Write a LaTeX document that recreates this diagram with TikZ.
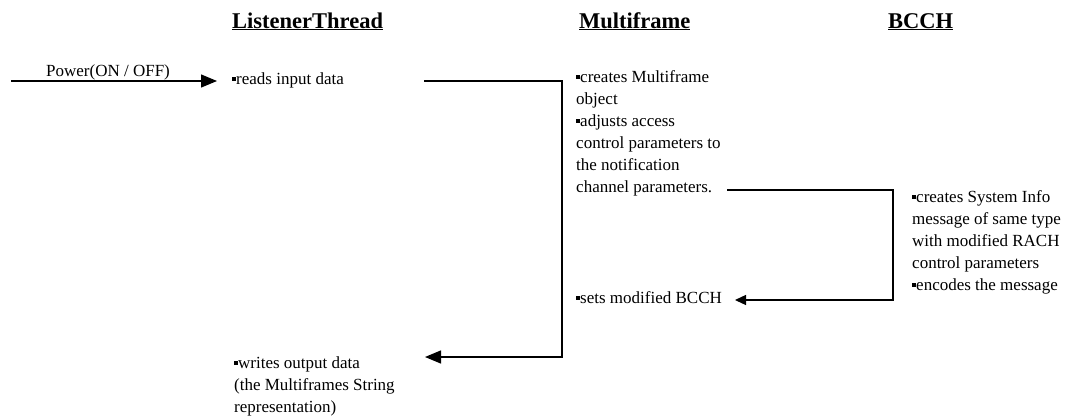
\documentclass[tikz,border=0pt]{standalone}
\usepackage{fontspec}
\setmainfont{Liberation Serif}
\usetikzlibrary{arrows.meta}
\newcommand{\sqb}{\rule[3.5pt]{4pt}{4pt}}

\begin{document}
\begin{tikzpicture}[x=1pt,y=-1pt,
  head/.style={anchor=base west,inner sep=0pt,font=\fontsize{22.5}{27}\selectfont\bfseries},
  txt/.style={anchor=base west,inner sep=0pt,align=left,font=\fontsize{17}{22}\selectfont},
  conn/.style={line width=1.3pt},
  tip/.style={-{Triangle[length=16pt,width=13pt]}},
  smalltip/.style={-{Triangle[length=11pt,width=10pt]}}]
        \useasboundingbox (0,0) rectangle (1080,418);

        \node [head] (LT) at (232,28) {\underline{ListenerThread}};
        \node [head] (MF) at (579,28) {\underline{Multiframe}};
        \node [head] (BC) at (888,28) {\underline{BCCH}};

        \coordinate (pwr) at (11,81);
        \node [txt] (P) at (46,76) {Power(ON / OFF)};
        \node [txt] (reads) at (232,84) {\sqb reads input data};
        \draw [conn,tip,shorten >=15pt] (pwr) -- (pwr -| reads.west);

        % multi-line nodes: base anchor sits on the last line
        \node [txt] (mfa) at (576,192) {\sqb creates Multiframe\\object\\\sqb adjusts access\\control parameters to\\the notification\\channel parameters.};
        \node [txt] (sets) at (576,303) {\sqb sets modified BCCH};
        \node [txt] (bca) at (912,290) {\sqb creates System Info\\message of same type\\with modified RACH\\control parameters\\\sqb encodes the message};
        \node [txt] (writes) at (234,412) {\sqb writes output data\\(the Multiframes String\\representation)};

        \coordinate (ro) at (424,81);
        \coordinate (wi) at (425,357);
        \draw [conn,tip] (ro) -- ++(138,0) |- (wi);

        \coordinate (co) at (727,190);
        \coordinate (si) at (735,300);
        \draw [conn,smalltip] (co) -- ++(166,0) |- (si);

\end{tikzpicture}
\end{document}
